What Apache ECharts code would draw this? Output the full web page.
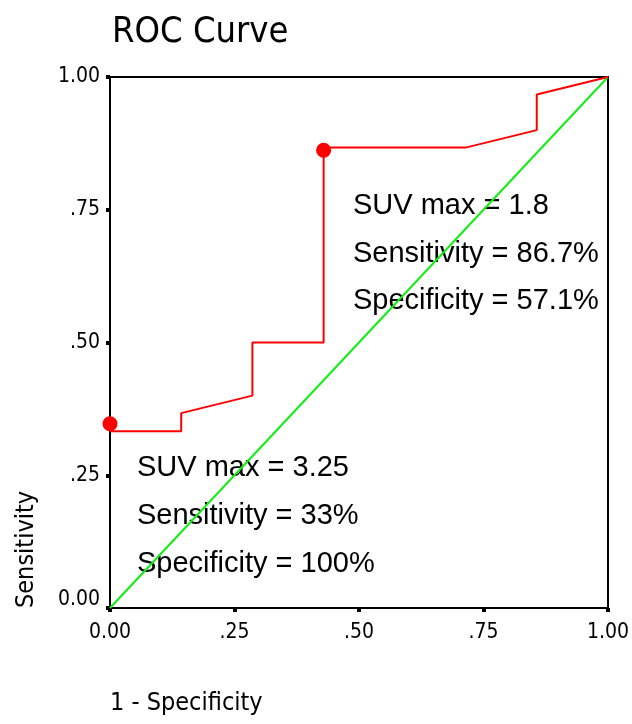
<!DOCTYPE html>
<html><head><meta charset="utf-8">
<script src="https://cdn.jsdelivr.net/npm/echarts@6/dist/echarts.min.js"></script>
<style>html,body{margin:0;padding:0;background:#fff}#c{width:632px;height:724px}</style>
</head><body><div id="c"></div>
<script>
var fpr = [0, 0.143, 0.143, 0.286, 0.286, 0.429, 0.429, 0.571, 0.714, 0.857, 0.857, 1];
var tpr = [0.333, 0.333, 0.367, 0.4, 0.5, 0.5, 0.867, 0.867, 0.867, 0.9, 0.967, 1];
var refX = [0, 1];
var refY = [0, 1];
var cutX = [0, 0.429];
var cutY = [0.347, 0.862];
var tickValues = [0, 0.25, 0.5, 0.75, 1];
var tickLabels = ['0.00', '.25', '.50', '.75', '1.00'];
var noteA = ['SUV max = 1.8', 'Sensitivity = 86.7%', 'Specificity = 57.1%'];
var noteB = ['SUV max = 3.25', 'Sensitivity = 33%', 'Specificity = 100%'];

var chart = echarts.init(document.getElementById('c'));
function lab(v) { var i = tickValues.indexOf(Math.round(v * 100) / 100); return i >= 0 ? tickLabels[i] : ''; }
var condensed = '"DejaVu Sans Condensed", "DejaVu Sans", sans-serif';
var narrow = '"Liberation Sans Narrow", "DejaVu Sans Condensed", sans-serif';
var arial = '"Liberation Sans", Arial, sans-serif';
var graphics = [];
noteA.forEach(function (t, i) {
  graphics.push({ type: 'text', x: 353, y: 206 + i * 47.5, style: { text: t, fontSize: 29, fontFamily: arial, fill: '#000', verticalAlign: 'middle' } });
});
noteB.forEach(function (t, i) {
  graphics.push({ type: 'text', x: 137, y: 468 + i * 48, style: { text: t, fontSize: 29, fontFamily: arial, fill: '#000', verticalAlign: 'middle' } });
});
graphics.push({ type: 'text', x: 110, y: 703, style: { text: '1 - Specificity', fontSize: 25, fontFamily: condensed, fill: '#000', verticalAlign: 'middle' } });
graphics.push({ type: 'text', x: 26, y: 608, rotation: Math.PI / 2, style: { text: 'Sensitivity', fontSize: 25, fontFamily: condensed, fill: '#000', verticalAlign: 'middle', align: 'left' } });

chart.setOption({
  animation: false,
  title: { text: 'ROC Curve', left: 107, top: 10, textStyle: { fontFamily: condensed, fontSize: 36, fontWeight: 'normal', color: '#000' } },
  grid: { left: 110, right: 22, top: 77, bottom: 116, show: true, borderColor: '#000', borderWidth: 2, backgroundColor: '#fff' },
  xAxis: {
    type: 'value', min: 0, max: 1, interval: 0.25,
    axisLine: { show: false }, splitLine: { show: false },
    axisTick: { show: true, length: 4, lineStyle: { color: '#000', width: 4 } },
    axisLabel: { margin: 14, fontFamily: narrow, fontSize: 21, color: '#000', formatter: lab }
  },
  yAxis: {
    type: 'value', min: 0, max: 1, interval: 0.25,
    axisLine: { show: false }, splitLine: { show: false },
    axisTick: { show: true, length: 4, lineStyle: { color: '#000', width: 4 } },
    axisLabel: { margin: 10, fontFamily: narrow, fontSize: 21, color: '#000',
      formatter: function (v) { return v === 0 ? '{z|' + lab(v) + '}' : lab(v); },
      rich: { z: { fontFamily: narrow, fontSize: 21, color: '#000', padding: [0, 0, 16, 0] } } }
  },
  graphic: graphics,
  series: [
    { type: 'line', data: refX.map(function (x, i) { return [x, refY[i]]; }), showSymbol: false, lineStyle: { color: '#11ee11', width: 2 }, z: 2 },
    { type: 'line', data: fpr.map(function (x, i) { return [x, tpr[i]]; }), showSymbol: false, lineStyle: { color: '#ff0000', width: 2 }, z: 3 },
    { type: 'scatter', data: cutX.map(function (x, i) { return [x, cutY[i]]; }), symbolSize: 15, itemStyle: { color: '#ff0000', opacity: 1 }, z: 4 }
  ]
});
</script></body></html>
